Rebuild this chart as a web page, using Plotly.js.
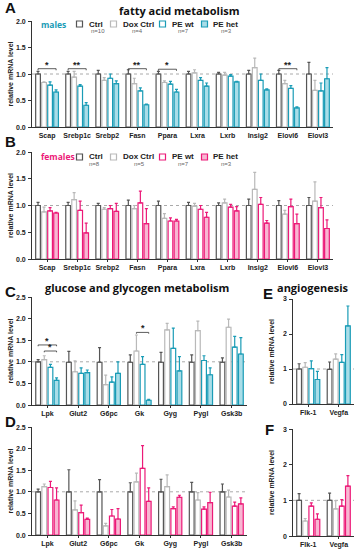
<!DOCTYPE html>
<html>
<head>
<meta charset="utf-8">
<script src="https://cdn.plot.ly/plotly-3.0.1.min.js"></script>
<style>html,body{margin:0;padding:0;background:#fff;}#chart{width:361px;height:550px;}</style>
</head>
<body>
<div id="chart"></div>
<script>
// ---------- DATA ----------
const groups = ["Ctrl", "Dox Ctrl", "PE wt", "PE het"];
const nMales = ["n=10", "n=4", "n=7", "n=3"];
const nFemales = ["n=8", "n=5", "n=7", "n=3"];

const faGenes = ["Scap", "Srebp1c", "Srebp2", "Fasn", "Ppara", "Lxra", "Lxrb", "Insig2", "Elovl6", "Elovl3"];
// Panel A (males)
const aCtrl   = [1.00, 1.00, 1.00, 1.00, 1.00, 1.00, 1.00, 1.00, 1.00, 1.00];
const aCtrlE  = [0.05, 0.05, 0.07, 0.08, 0.05, 0.05, 0.03, 0.07, 0.07, 0.22];
const aDox    = [0.84, 0.94, 0.88, 0.82, 0.84, 1.02, 0.98, 1.12, 0.82, 0.69];
const aDoxE   = [0.01, 0.11, 0.05, 0.10, 0.03, 0.06, 0.05, 0.18, 0.06, 0.19];
const aWt     = [0.79, 0.77, 0.92, 0.68, 0.81, 0.88, 0.96, 0.88, 0.73, 0.68];
const aWtE    = [0.06, 0.03, 0.08, 0.06, 0.05, 0.05, 0.03, 0.12, 0.05, 0.15];
const aHet    = [0.66, 0.41, 0.82, 0.42, 0.66, 0.77, 0.85, 0.70, 0.36, 0.91];
const aHetE   = [0.04, 0.05, 0.05, 0.01, 0.05, 0.06, 0.01, 0.02, 0.02, 0.21];
// Panel B (females)
const bCtrl   = [1.00, 1.00, 1.00, 1.00, 1.00, 1.00, 1.00, 1.00, 1.00, 1.00];
const bCtrlE  = [0.06, 0.06, 0.04, 0.10, 0.08, 0.06, 0.05, 0.12, 0.09, 0.15];
const bDox    = [0.88, 1.11, 0.93, 0.94, 0.76, 0.99, 1.05, 1.30, 0.84, 1.08];
const bDoxE   = [0.09, 0.13, 0.03, 0.06, 0.09, 0.05, 0.07, 0.32, 0.07, 0.36];
const bWt     = [0.90, 0.91, 0.94, 1.05, 0.71, 0.93, 0.97, 1.02, 0.98, 0.96];
const bWtE    = [0.06, 0.17, 0.06, 0.22, 0.06, 0.07, 0.05, 0.13, 0.14, 0.19];
const bHet    = [0.86, 0.49, 0.89, 0.66, 0.71, 0.78, 0.90, 0.67, 0.66, 0.57];
const bHetE   = [0.01, 0.18, 0.15, 0.28, 0.03, 0.09, 0.08, 0.05, 0.18, 0.16];

const glGenes = ["Lpk", "Glut2", "G6pc", "Gk", "Gyg", "Pygl", "Gsk3b"];
// Panel C (males)
const cCtrl   = [1.00, 0.99, 0.99, 0.99, 0.99, 0.99, 0.99];
const cCtrlE  = [0.05, 0.25, 0.34, 0.17, 0.23, 0.17, 0.10];
const cDox    = [1.05, 0.77, 0.47, 1.25, 1.74, 1.72, 1.80];
const cDoxE   = [0.09, 0.25, 0.22, 0.37, 0.15, 0.22, 0.19];
const cWt     = [0.87, 0.73, 0.53, 0.94, 1.31, 1.03, 1.34];
const cWtE    = [0.07, 0.13, 0.12, 0.18, 0.47, 0.11, 0.25];
const cHet    = [0.57, 0.75, 0.73, 0.11, 0.79, 0.70, 1.18];
const cHetE   = [0.06, 0.06, 0.27, 0.02, 0.33, 0.16, 0.38];
// Panel D (females)
const dCtrl   = [1.00, 1.00, 1.00, 1.00, 1.00, 1.00, 1.00];
const dCtrlE  = [0.06, 0.51, 0.28, 0.21, 0.29, 0.22, 0.18];
const dDox    = [1.12, 0.58, 0.21, 1.23, 1.12, 0.81, 0.88];
const dDoxE   = [0.06, 0.21, 0.06, 0.20, 0.27, 0.17, 0.16];
const dWt     = [1.10, 0.52, 0.44, 1.54, 0.61, 0.60, 0.67];
const dWtE    = [0.14, 0.17, 0.15, 0.53, 0.04, 0.05, 0.09];
const dHet    = [0.81, 0.36, 0.37, 0.78, 0.87, 0.75, 0.72];
const dHetE   = [0.28, 0.03, 0.24, 0.31, 0.05, 0.24, 0.14];

const anGenes = ["Flk-1", "Vegfa"];
// Panel E (males)
const eCtrl = [1.00, 0.99], eCtrlE = [0.15, 0.21];
const eDox  = [1.05, 1.28], eDoxE  = [0.13, 0.15];
const eWt   = [1.01, 1.19], eWtE   = [0.22, 0.22];
const eHet  = [0.70, 2.23], eHetE  = [0.23, 0.57];
// Panel F (females)
const fCtrl = [1.00, 1.00], fCtrlE = [0.19, 0.20];
const fDox  = [0.42, 0.76], fDoxE  = [0.07, 0.23];
const fWt   = [0.84, 0.84], fWtE   = [0.09, 0.18];
const fHet  = [0.47, 1.40], fHetE  = [0.15, 0.29];

// y tick labels
const yTicks2 = ["0.0", "0.5", "1.0", "1.5", "2.0"];
const yTicks25 = ["0.0", "0.5", "1.0", "1.5", "2.0", "2.5"];
const yTicks3 = ["0", "1", "2", "3"];

// significance brackets: [gene index, from group, to group, y level, label]
const sigA = [[0, 0, 3, 1.10, "*"], [1, 0, 3, 1.10, "**"], [3, 0, 3, 1.10, "**"], [4, 0, 3, 1.09, "*"], [8, 0, 3, 1.10, "**"]];
const sigC = [[0, 0, 3, 1.39, "*"], [0, 1, 3, 1.25, "*"], [3, 1, 3, 1.68, "*"]];

// ---------- STYLE ----------
const W = 361, H = 550;
const FONT = "Liberation Sans, Arial, sans-serif";
const TFONT = "Open Sans, Liberation Sans, sans-serif";
const GRAY_D = "#555555", GRAY_L = "#b9b9b9";
const TEAL = "#1a9cb6", TEAL_F = "#a9dde8";
const PINK = "#ec1a78", PINK_F = "#f8b6d2";
const maleLine = [GRAY_D, GRAY_L, TEAL, TEAL];
const maleFill = ["#ffffff", "#ffffff", "#ffffff", TEAL_F];
const femLine = [GRAY_D, GRAY_L, PINK, PINK];
const femFill = ["#ffffff", "#ffffff", "#ffffff", PINK_F];
const BARGAP = 0.2;

const px = x => x / W;
const py = y => 1 - y / H;

const traces = [];
function addPanel(ax, cats, vals, errs, lines, fills) {
  for (let g = 0; g < 4; g++) {
    traces.push({
      type: "bar", name: groups[g], x: cats, y: vals[g],
      xaxis: "x" + (ax === 1 ? "" : ax), yaxis: "y" + (ax === 1 ? "" : ax),
      marker: {color: fills[g], line: {color: lines[g], width: 1.2}},
      error_y: {type: "data", symmetric: false, array: errs[g], arrayminus: vals[g].map(() => 0),
                color: lines[g], thickness: 1.2, width: 1.5},
      showlegend: false, hoverinfo: "skip"
    });
  }
}
addPanel(1, faGenes, [aCtrl, aDox, aWt, aHet], [aCtrlE, aDoxE, aWtE, aHetE], maleLine, maleFill);
addPanel(2, faGenes, [bCtrl, bDox, bWt, bHet], [bCtrlE, bDoxE, bWtE, bHetE], femLine, femFill);
addPanel(3, glGenes, [cCtrl, cDox, cWt, cHet], [cCtrlE, cDoxE, cWtE, cHetE], maleLine, maleFill);
addPanel(4, glGenes, [dCtrl, dDox, dWt, dHet], [dCtrlE, dDoxE, dWtE, dHetE], femLine, femFill);
addPanel(5, anGenes, [eCtrl, eDox, eWt, eHet], [eCtrlE, eDoxE, eWtE, eHetE], maleLine, maleFill);
addPanel(6, anGenes, [fCtrl, fDox, fWt, fHet], [fCtrlE, fDoxE, fWtE, fHetE], femLine, femFill);

// panel geometry in pixels: [left, right, top, bottom]
const geo = {
  1: [32, 333, 21, 127],
  2: [32, 333, 152, 259],
  3: [32, 247, 297, 405],
  4: [32, 247, 427, 535],
  5: [293, 354, 299, 404],
  6: [293, 354, 429, 536]
};
const nCats = {1: 10, 2: 10, 3: 7, 4: 7, 5: 2, 6: 2};
const yTickText = {1: yTicks2, 2: yTicks2, 3: yTicks25, 4: yTicks25, 5: yTicks3, 6: yTicks3};

const layout = {
  width: W, height: H, margin: {l: 0, r: 0, t: 0, b: 0},
  paper_bgcolor: "#ffffff", plot_bgcolor: "#ffffff",
  barmode: "group", bargap: BARGAP, bargroupgap: 0.22,
  font: {family: FONT, color: "#222"},
  shapes: [], annotations: []
};
for (let k = 1; k <= 6; k++) {
  const [l, r, t, b] = geo[k];
  const s = k === 1 ? "" : k;
  const tt = yTickText[k];
  const tv = tt.map(Number);
  layout["xaxis" + s] = {
    domain: [px(l), px(r)], anchor: "y" + s, range: [-0.5, nCats[k] - 0.5],
    showline: true, linecolor: "#333", linewidth: 1, ticks: "outside", ticklen: 2, tickcolor: "#333",
    tickfont: {family: FONT, size: 7, color: "#222", weight: "bold"}, showgrid: false, zeroline: false
  };
  layout["yaxis" + s] = {
    domain: [py(b), py(t)], anchor: "x" + s, range: [0, tv[tv.length - 1]],
    tickmode: "array", tickvals: tv, ticktext: tt, showticklabels: false,
    showline: true, linecolor: "#333", linewidth: 1, ticks: "outside", ticklen: 3, tickcolor: "#333",
    showgrid: false, zeroline: false,
    title: {text: "relative mRNA level", font: {family: FONT, size: 7, color: "#222", weight: "bold"}, standoff: 13}
  };
  // tick labels placed on the axis scale
  tt.forEach((lab, i) => layout.annotations.push({
    xref: "x" + s + " domain", yref: "y" + s, x: 0, y: tv[i], xanchor: "right", yanchor: "middle",
    xshift: -4, text: lab, showarrow: false, font: {family: FONT, size: 7, color: "#222", weight: "bold"}
  }));
  layout.shapes.push({type: "line", xref: "x" + s + " domain", yref: "y" + s, x0: 0, x1: 1, y0: 1, y1: 1,
    line: {color: "#aaa", width: 1, dash: "dot"}, layer: "below"});
}

// significance brackets
const slot = (1 - BARGAP) / 4;
function addSig(list, s) {
  list.forEach(([gi, g0, g1, y, lab]) => {
    const x0 = gi + (g0 - 1.5) * slot, x1 = gi + (g1 - 1.5) * slot, d = 0.03;
    const L = (a, b, c, e) => layout.shapes.push({type: "line", xref: "x" + s, yref: "y" + s, x0: a, y0: b, x1: c, y1: e,
      line: {color: "#333", width: 0.8}});
    L(x0, y, x1, y); L(x0, y, x0, y - d); L(x1, y, x1, y - d);
    layout.annotations.push({xref: "x" + s, yref: "y" + s, x: (x0 + x1) / 2, y: y, yanchor: "bottom", yshift: -3,
      text: lab, showarrow: false, font: {family: FONT, size: 9, color: "#222", weight: "bold"}});
  });
}
addSig(sigA, "");
addSig(sigC, "3");

// legends
function addLegend(yc, sexLabel, sexColor, lines, fills, ns, nPos) {
  layout.annotations.push({xref: "paper", yref: "paper", x: px(39), y: py(yc), xanchor: "left", yanchor: "middle",
    text: sexLabel, showarrow: false, font: {family: TFONT, size: 8.5, color: sexColor, weight: "bold"}});
  const boxX = [76.5, 110.5, 159.5, 201.5];
  for (let g = 0; g < 4; g++) {
    layout.shapes.push({type: "rect", xref: "paper", yref: "paper", x0: px(boxX[g]), x1: px(boxX[g] + 6),
      y0: py(yc + 3), y1: py(yc - 3), line: {color: lines[g], width: 1.2}, fillcolor: fills[g]});
    layout.annotations.push({xref: "paper", yref: "paper", x: px(boxX[g] + 10), y: py(yc), xanchor: "left", yanchor: "middle",
      text: groups[g], showarrow: false, font: {family: FONT, size: 8, color: "#222", weight: "bold"}});
    layout.annotations.push({xref: "paper", yref: "paper", x: px(nPos[g]), y: py(yc + 7), xanchor: "center", yanchor: "middle",
      text: ns[g], showarrow: false, font: {family: FONT, size: 6, color: "#666"}});
  }
}
addLegend(24, "males", TEAL, maleLine, maleFill, nMales, [98, 137, 183, 226]);
addLegend(157, "females", PINK, femLine, femFill, nFemales, [94, 139, 183, 226]);

// panel letters and titles
const letters = [["A", 3, 8], ["B", 3, 141], ["C", 3, 291], ["D", 3, 421], ["E", 261, 293], ["F", 263, 429]];
letters.forEach(([t, x, y]) => layout.annotations.push({xref: "paper", yref: "paper", x: px(x), y: py(y),
  xanchor: "left", yanchor: "middle", text: t, showarrow: false,
  font: {family: FONT, size: 15, color: "#111", weight: "bold"}}));
const titles = [["fatty acid metabolism", 117, 10], ["glucose and glycogen metabolism", 43, 287], ["angiogenesis", 275, 287]];
titles.forEach(([t, x, y]) => layout.annotations.push({xref: "paper", yref: "paper", x: px(x), y: py(y),
  xanchor: "left", yanchor: "middle", text: t, showarrow: false,
  font: {family: TFONT, size: 11, color: "#111", weight: "bold"}}));

Plotly.newPlot("chart", traces, layout, {staticPlot: true, displayModeBar: false});
</script>
</body>
</html>
